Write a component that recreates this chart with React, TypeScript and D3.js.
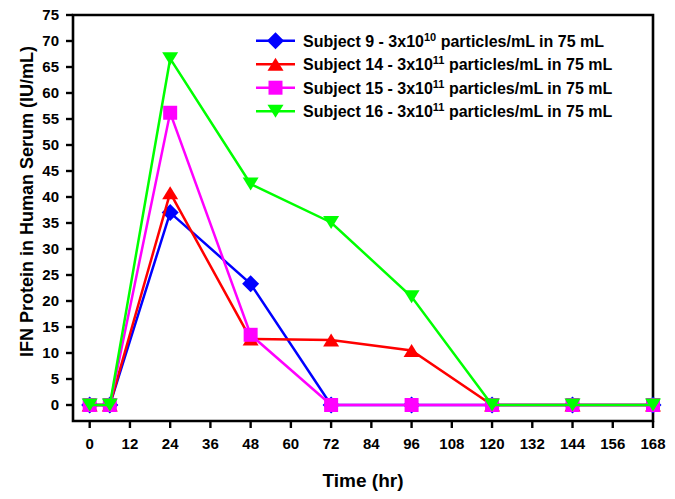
import React from "react";
import * as d3 from "d3";

const times = [0, 6, 24, 48, 72, 96, 120, 144, 168];
const subject9 = [0, 0, 37.0, 23.3, 0, 0, 0, 0, 0];
const subject14 = [0, 0, 40.8, 12.7, 12.5, 10.5, 0, 0, 0];
const subject15 = [0, 0, 56.2, 13.5, 0, 0, 0, 0, 0];
const subject16 = [0, 0, 66.6, 42.5, 35.1, 20.8, 0, 0, 0];
const xTicks = [0, 12, 24, 36, 48, 60, 72, 84, 96, 108, 120, 132, 144, 156, 168];
const yTicks = [0, 5, 10, 15, 20, 25, 30, 35, 40, 45, 50, 55, 60, 65, 70, 75];
const legendLabels = [
  { pre: "Subject 9 - 3x10", sup: "10", post: " particles/mL in 75 mL" },
  { pre: "Subject 14 - 3x10", sup: "11", post: " particles/mL in 75 mL" },
  { pre: "Subject 15 - 3x10", sup: "11", post: " particles/mL in 75 mL" },
  { pre: "Subject 16 - 3x10", sup: "11", post: " particles/mL in 75 mL" },
];

const FONT = "'Liberation Sans', Arial, sans-serif";

type Shape = "diamond" | "up" | "square" | "down";

function markerPath(shape: Shape, cx: number, cy: number): string {
  switch (shape) {
    case "diamond": {
      const r = 8.5;
      return `M${cx},${cy - r}L${cx + r},${cy}L${cx},${cy + r}L${cx - r},${cy}Z`;
    }
    case "up": {
      const w = 8, h = 6.5;
      return `M${cx},${cy - h}L${cx + w},${cy + h}L${cx - w},${cy + h}Z`;
    }
    case "down": {
      const w = 8, h = 6.5;
      return `M${cx},${cy + h}L${cx + w},${cy - h}L${cx - w},${cy - h}Z`;
    }
    default: {
      const s = 7;
      return `M${cx - s},${cy - s}H${cx + s}V${cy + s}H${cx - s}Z`;
    }
  }
}

const series = [
  { values: subject9, color: "#0000ff", shape: "diamond" as Shape },
  { values: subject14, color: "#ff0000", shape: "up" as Shape },
  { values: subject15, color: "#ff00ff", shape: "square" as Shape },
  { values: subject16, color: "#00ff00", shape: "down" as Shape },
];

export default function App() {
  const left = 73, right = 653, top = 15, bottom = 421;
  const x = d3.scaleLinear().domain([0, 168]).range([89.7, 653]);
  const y = d3.scaleLinear().domain([0, 75]).range([405, 15]);
  const line = d3
    .line<number>()
    .x((_, i) => x(times[i]))
    .y((d) => y(d));

  const legendX = 256, legendY0 = 40.7, legendDy = 23.5;

  return (
    <svg
      width={675}
      height={499}
      style={{ position: "absolute", left: 0, top: 0, background: "#fff" }}
      fontFamily={FONT}
    >
      <rect x={0} y={0} width={675} height={499} fill="#fff" />
      {/* frame */}
      <path
        d={`M${left},${bottom}V${top}H${right}V${bottom}Z`}
        fill="none"
        stroke="#000"
        strokeWidth={2.6}
      />
      {/* y ticks */}
      {yTicks.map((t) => (
        <g key={"y" + t}>
          <line x1={left - 7} x2={left} y1={y(t)} y2={y(t)} stroke="#000" strokeWidth={2.4} />
          <text
            x={left - 14}
            y={y(t)}
            dy="0.36em"
            textAnchor="end"
            fontSize={15}
            fontWeight="bold"
            fill="#000"
          >
            {t}
          </text>
        </g>
      ))}
      {/* x ticks */}
      {xTicks.map((t) => (
        <g key={"x" + t}>
          <line x1={x(t)} x2={x(t)} y1={bottom} y2={bottom + 7} stroke="#000" strokeWidth={2.4} />
          <text
            x={x(t)}
            y={449}
            textAnchor="middle"
            fontSize={15}
            fontWeight="bold"
            fill="#000"
          >
            {t}
          </text>
        </g>
      ))}
      {/* axis titles */}
      <text
        x={363}
        y={487}
        textAnchor="middle"
        fontSize={19}
        fontWeight="bold"
        fill="#000"
      >
        Time (hr)
      </text>
      <text
        transform={`translate(33,201.5) rotate(-90)`}
        textAnchor="middle"
        fontSize={18}
        fontWeight="bold"
        fill="#000"
      >
        IFN Protein in Human Serum (IU/mL)
      </text>
      {/* series */}
      {series.map((s, si) => (
        <g key={"s" + si}>
          <path d={line(s.values) || ""} fill="none" stroke={s.color} strokeWidth={2.5} />
          {s.values.map((v, i) => (
            <path key={i} d={markerPath(s.shape, x(times[i]), y(v))} fill={s.color} />
          ))}
        </g>
      ))}
      {/* legend */}
      {series.map((s, i) => {
        const ly = legendY0 + i * legendDy;
        const lab = legendLabels[i];
        return (
          <g key={"l" + i}>
            <line x1={legendX} x2={legendX + 39} y1={ly} y2={ly} stroke={s.color} strokeWidth={2.5} />
            <path d={markerPath(s.shape, legendX + 19.5, ly)} fill={s.color} />
            <text x={303} y={ly + 5.8} fontSize={16} fontWeight="bold" fill="#000">
              {lab.pre}
              <tspan dy={-6} fontSize={11}>
                {lab.sup}
              </tspan>
              <tspan dy={6}>{lab.post}</tspan>
            </text>
          </g>
        );
      })}
    </svg>
  );
}
